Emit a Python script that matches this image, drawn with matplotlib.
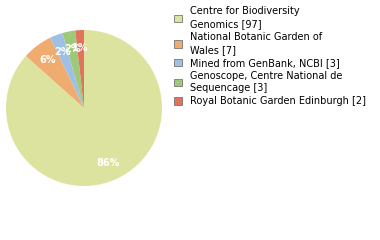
import matplotlib
matplotlib.use("Agg")
import matplotlib.pyplot as plt
import numpy as np

labels = ["Centre for Biodiversity\nGenomics [97]",
          "National Botanic Garden of\nWales [7]",
          "Mined from GenBank, NCBI [3]",
          "Genoscope, Centre National de\nSequencage [3]",
          "Royal Botanic Garden Edinburgh [2]"]
values = [97, 7, 3, 3, 2]
colors = ["#dce39f", "#f0ac6f", "#9fbfe5", "#9fc97a", "#e0735c"]

fig = plt.figure(figsize=(3.8, 2.4), dpi=100)
ax = fig.add_axes([0.0158, 0.225, 0.4105, 0.65])
total = sum(values)
wedges, _ = ax.pie(values, colors=colors, startangle=90, counterclock=False,
                   wedgeprops=dict(linewidth=0))
ax.set_xlim(-1, 1)
ax.set_ylim(-1, 1)
ax.set_aspect("equal")
for w, v in zip(wedges, values):
    ang = np.deg2rad((w.theta1 + w.theta2) / 2)
    r = 0.77
    ax.text(r * np.cos(ang), r * np.sin(ang), f"{int(100 * v / total)}%",
            ha="center", va="center", color="white", fontsize=7, fontweight="bold")

handles = [plt.Rectangle((0, 0), 1, 1, facecolor=c, edgecolor="#777777", linewidth=0.6)
           for c in colors]
leg = fig.legend(handles, labels, loc="upper left", bbox_to_anchor=(0.447, 0.99),
                 frameon=False, fontsize=7, handlelength=0.8, handleheight=0.8,
                 handletextpad=0.9, labelspacing=0.3, borderaxespad=0)
for t in leg.get_texts():
    t.set_linespacing(1.35)
fig.savefig("out.png", dpi=100)
